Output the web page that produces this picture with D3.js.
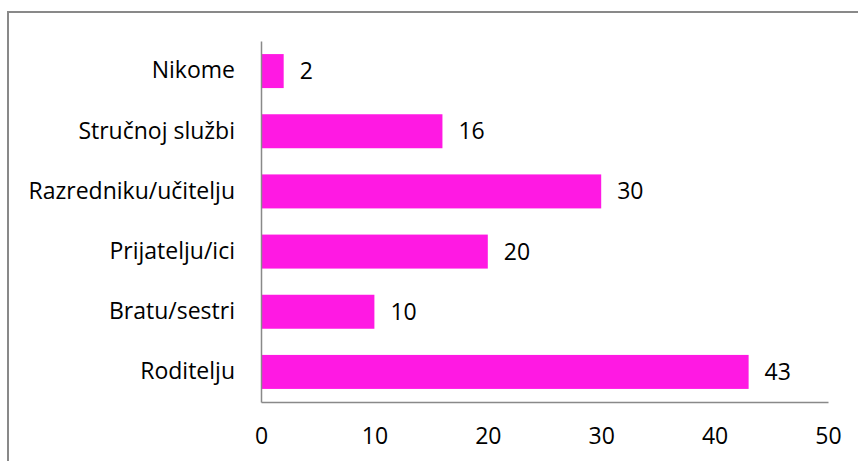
<!DOCTYPE html>
<html>
<head>
<meta charset="utf-8">
<script src="https://cdn.jsdelivr.net/npm/d3@7"></script>
<style>
  body { margin: 0; background: #fff; }
  svg { display: block; }
</style>
</head>
<body>
<div id="chart"></div>
<script>
// ---- Data ----
const categories = ["Nikome", "Stručnoj službi", "Razredniku/učitelju", "Prijatelju/ici", "Bratu/sestri", "Roditelju"];
const values = [2, 16, 30, 20, 10, 43];
const xTicks = [0, 10, 20, 30, 40, 50];

const W = 858, H = 461;
const margin = { top: 41, right: 30, bottom: 59, left: 261 };
const innerW = W - margin.left - margin.right;
const innerH = H - margin.top - margin.bottom;
const font = "'Open Sans', sans-serif";
const fontSize = 23;
const barColor = "#ff19e3";
const axisColor = "#898989";

const svg = d3.select("#chart").append("svg")
    .attr("width", W)
    .attr("height", H);

// outer frame (left + top edges only visible)
svg.append("path")
    .attr("d", `M8,${H} L8,12 L${W},12`)
    .attr("fill", "none")
    .attr("stroke", axisColor)
    .attr("stroke-width", 2);

const g = svg.append("g")
    .attr("transform", `translate(${margin.left},${margin.top})`);

// ---- Scales ----
const x = d3.scaleLinear()
    .domain([0, 50])
    .range([0, innerW]);

const y = d3.scaleBand()
    .domain(categories)
    .range([0, innerH])
    .paddingInner(0.435)
    .paddingOuter(0.2175);

// ---- Bars ----
g.selectAll(".bar")
    .data(categories)
    .enter()
    .append("rect")
    .attr("class", "bar")
    .attr("x", 0)
    .attr("y", d => y(d))
    .attr("width", (d, i) => x(values[i]))
    .attr("height", y.bandwidth())
    .attr("fill", barColor);

// value labels
g.selectAll(".val")
    .data(categories)
    .enter()
    .append("text")
    .attr("x", (d, i) => x(values[i]) + 16)
    .attr("y", d => y(d) + y.bandwidth() / 2)
    .attr("dy", "0.35em")
    .style("font-family", font)
    .style("font-size", fontSize + "px")
    .style("fill", "#000")
    .text((d, i) => values[i]);

// ---- Axes ----
const xAxis = g.append("g")
    .attr("transform", `translate(0,${innerH})`)
    .call(d3.axisBottom(x).tickValues(xTicks).tickSize(0).tickPadding(26));
xAxis.select(".domain").attr("stroke", axisColor).attr("stroke-width", 1.5);
xAxis.selectAll("text")
    .style("font-family", font)
    .style("font-size", fontSize + "px")
    .style("fill", "#000");

const yAxis = g.append("g")
    .call(d3.axisLeft(y).tickSize(0).tickPadding(26));
yAxis.select(".domain").attr("stroke", axisColor).attr("stroke-width", 1.5);
yAxis.selectAll("text")
    .style("font-family", font)
    .style("font-size", fontSize + "px")
    .style("fill", "#000");
</script>
</body>
</html>
